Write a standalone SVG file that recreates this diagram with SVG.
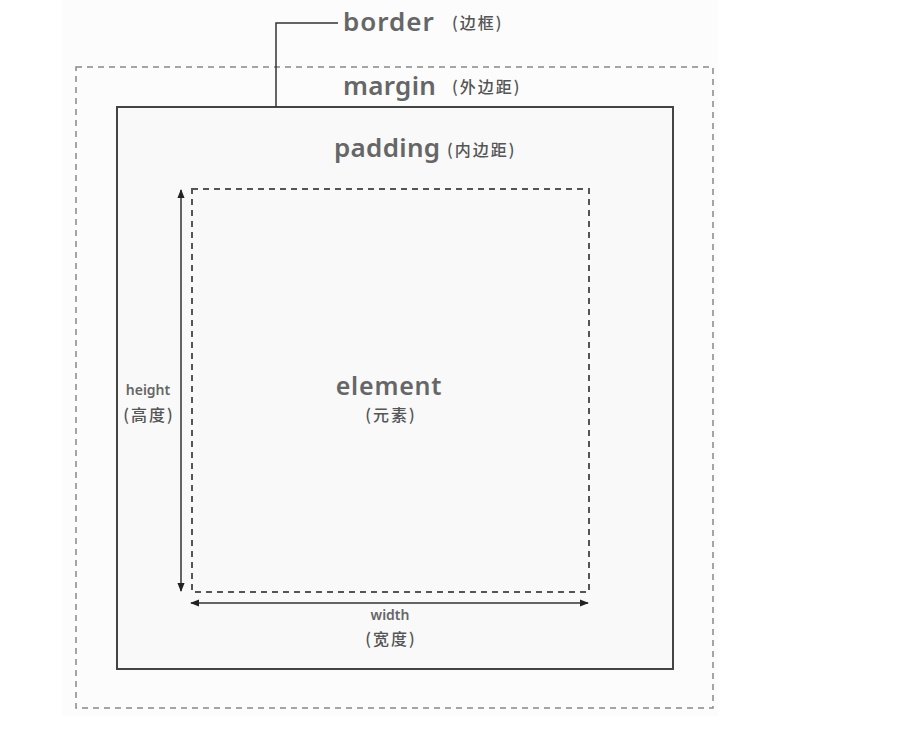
<svg xmlns="http://www.w3.org/2000/svg" width="910" height="732" viewBox="0 0 910 732">
<defs>
<style>
.lbl{font-family:"Noto Sans","Open Sans","Noto Sans CJK SC",sans-serif;font-weight:600;fill:#666}
.cn{font-family:"Noto Sans CJK SC",sans-serif;font-weight:500;fill:#555;font-size:16px;letter-spacing:2px}
.dash{fill:none;stroke:#888;stroke-width:1.5;stroke-dasharray:6 5}
.ln{fill:none;stroke:#333;stroke-width:1.5}
</style>
<marker id="ah" viewBox="0 0 10 10" refX="9" refY="5" markerWidth="6" markerHeight="6" orient="auto-start-reverse">
<path d="M0,1 L10,5 L0,9 z" fill="#222"/>
</marker>
</defs>
<rect x="0" y="0" width="910" height="732" fill="#ffffff"/>
<rect x="62" y="0" width="656" height="716" fill="#fcfcfd"/>
<g id="margin">
<rect class="dash" x="76" y="67" width="637" height="641"/>
<text class="lbl" x="343" y="95" font-size="26" letter-spacing="0.3">margin</text>
<text class="cn" x="452" y="93">(外边距)</text>
</g>
<g id="border">
<rect x="117" y="107" width="556" height="562" fill="#f9f9fa" stroke="#444" stroke-width="2"/>
<text class="lbl" x="343" y="31" font-size="26" letter-spacing="1">border</text>
<text class="cn" x="452" y="29">(边框)</text>
</g>
<g id="padding">
<text class="lbl" x="334" y="157" font-size="26" letter-spacing="0.3">padding</text>
<text class="cn" x="447" y="156">(内边距)</text>
</g>
<g id="element">
<rect x="192" y="189" width="397" height="403" fill="none" stroke="#555" stroke-width="2" stroke-dasharray="6 5"/>
<text class="lbl" x="389" y="395" font-size="25" letter-spacing="0.8" text-anchor="middle">element</text>
<text class="cn" x="391" y="421" text-anchor="middle">(元素)</text>
</g>
<g id="height">
<text class="lbl" x="148" y="395" font-size="14" text-anchor="middle">height</text>
<text class="cn" x="149" y="421" text-anchor="middle">(高度)</text>
</g>
<g id="width">
<text class="lbl" x="390" y="620" font-size="14" text-anchor="middle">width</text>
<text class="cn" x="391" y="645" text-anchor="middle">(宽度)</text>
</g>
<g id="connectors">
<polyline class="ln" points="276,107 276,23 338,23" stroke="#666"/>
<line class="ln" x1="181" y1="190" x2="181" y2="591" marker-start="url(#ah)" marker-end="url(#ah)"/>
<line class="ln" x1="191" y1="603" x2="588" y2="603" marker-start="url(#ah)" marker-end="url(#ah)"/>
</g>
</svg>
